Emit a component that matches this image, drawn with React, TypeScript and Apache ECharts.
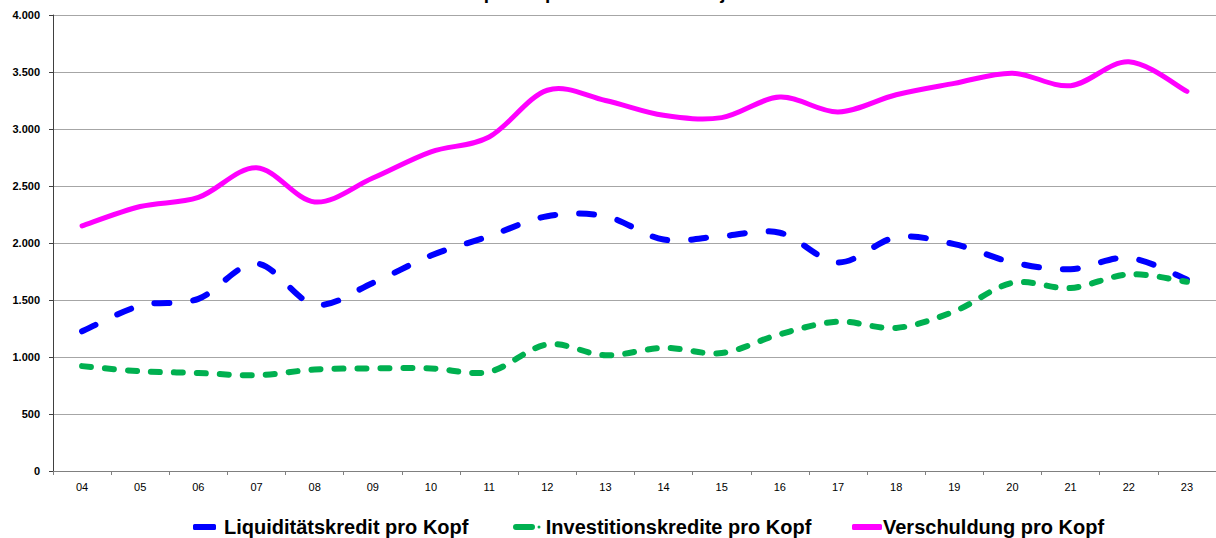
import React, { useEffect, useRef } from "react";
import * as echarts from "echarts";

const categories = ["04","05","06","07","08","09","10","11","12","13","14","15","16","17","18","19","20","21","22","23"];
const liquiditaet = [1225,1450,1510,1820,1460,1650,1890,2060,2235,2235,2030,2060,2090,1830,2050,1990,1830,1770,1870,1680];
const investition = [920,875,860,840,890,900,900,870,1110,1015,1080,1035,1200,1310,1255,1400,1650,1605,1725,1660];
const verschuldung = [2150,2320,2400,2660,2360,2570,2800,2930,3340,3250,3120,3100,3280,3150,3300,3400,3490,3380,3590,3330];
const seriesNames = ["Liquiditätskredit pro Kopf", "Investitionskredite pro Kopf", "Verschuldung pro Kopf"];
const titleText = "Schulden pro Kopf in den Haushaltsjahren 2004 bis 2023";

const FONT = "'Liberation Sans', Arial, sans-serif";

function smoothLine(name: string, values: number[], color: string, width: number, dash: number[] | null) {
  return {
    type: "custom",
    name,
    coordinateSystem: "cartesian2d",
    data: values.map((v, i) => [i, v]),
    encode: { x: 0, y: 1 },
    itemStyle: { color },
    clip: false,
    renderItem: (params: any, api: any) => {
      if (params.dataIndex !== 0) return null;
      const pts: number[][] = values.map((v, i) => api.coord([i, v]));
      let d = `M${pts[0][0]},${pts[0][1]}`;
      const n = pts.length;
      for (let i = 0; i < n - 1; i++) {
        const p0 = pts[Math.max(i - 1, 0)];
        const p1 = pts[i];
        const p2 = pts[i + 1];
        const p3 = pts[Math.min(i + 2, n - 1)];
        const c1x = p1[0] + (p2[0] - p0[0]) / 6;
        const c1y = p1[1] + (p2[1] - p0[1]) / 6;
        const c2x = p2[0] - (p3[0] - p1[0]) / 6;
        const c2y = p2[1] - (p3[1] - p1[1]) / 6;
        d += ` C${c1x},${c1y} ${c2x},${c2y} ${p2[0]},${p2[1]}`;
      }
      return {
        type: "path",
        shape: { pathData: d },
        style: {
          fill: "none",
          stroke: color,
          lineWidth: width,
          lineDash: dash || undefined,
          lineCap: "round",
          lineJoin: "round",
        },
      };
    },
  };
}

export default function App() {
  const ref = useRef<HTMLDivElement>(null);
  useEffect(() => {
    if (!ref.current) return;
    const chart = echarts.init(ref.current, null, { renderer: "svg" });
    const fmt = (v: number) => String(v).replace(/\B(?=(\d{3})+(?!\d))/g, ".");
    const legendText = { fontSize: 20, fontWeight: "bold" as const, color: "#000", fontFamily: FONT, lineHeight: 20 };
    chart.setOption({
      animation: false,
      backgroundColor: "#fff",
      graphic: [
        {
          type: "text",
          x: 393,
          y: -8,
          style: { text: titleText, fontSize: 19, fontWeight: "bold", fontFamily: FONT, fill: "#000", verticalAlign: "middle" },
        },
      ],
      grid: { left: 53, top: 15, width: 1174, height: 456, containLabel: false },
      legend: [
        {
          data: [{ name: seriesNames[0], icon: "roundRect" }],
          left: 193, top: 517, padding: 0, itemWidth: 23, itemHeight: 6,
          itemStyle: { color: "#0000ff", borderWidth: 0 },
          textStyle: { ...legendText, padding: [0, 0, 0, 3] }, selectedMode: false,
        },
        {
          data: [{ name: seriesNames[1], icon: "path://M3,0 H19 A3,3 0 0 1 19,6 H3 A3,3 0 0 1 3,0 Z M26,1.5 A1.5,1.5 0 1 1 26,4.5 A1.5,1.5 0 1 1 26,1.5 Z" }],
          left: 513, top: 517, padding: 0, itemWidth: 28, itemHeight: 6,
          itemStyle: { color: "#00b050", borderWidth: 0 },
          textStyle: legendText, selectedMode: false,
        },
        {
          data: [{ name: seriesNames[2], icon: "roundRect" }],
          left: 852, top: 517, padding: 0, itemWidth: 30, itemHeight: 6,
          itemStyle: { color: "#ff00ff", borderWidth: 0 },
          textStyle: { ...legendText, padding: [0, 0, 0, -4] }, selectedMode: false,
        },
      ],
      xAxis: {
        type: "category",
        data: categories,
        boundaryGap: true,
        axisLine: { lineStyle: { color: "#808080", width: 1 } },
        axisTick: { show: true, length: 4, lineStyle: { color: "#808080" } },
        axisLabel: { fontSize: 11, color: "#000", fontFamily: FONT, margin: 10 },
        splitLine: { show: false },
      },
      yAxis: {
        type: "value",
        min: 0,
        max: 4000,
        interval: 500,
        axisLine: { show: true, lineStyle: { color: "#404040", width: 1 } },
        axisTick: { show: true, length: 4, lineStyle: { color: "#404040" } },
        axisLabel: { fontSize: 11, fontWeight: "bold", color: "#000", fontFamily: FONT, margin: 13, formatter: fmt },
        splitLine: { lineStyle: { color: "#a6a6a6", width: 1 } },
      },
      series: [
        smoothLine(seriesNames[0], liquiditaet, "#0000ff", 6, [15, 24]),
        smoothLine(seriesNames[1], investition, "#00b050", 6, [9, 14]),
        smoothLine(seriesNames[2], verschuldung, "#ff00ff", 5, null),
      ],
    });
    return () => chart.dispose();
  }, []);
  return <div ref={ref} style={{ position: "fixed", left: 0, top: 0, width: 1216, height: 538 }} />;
}
